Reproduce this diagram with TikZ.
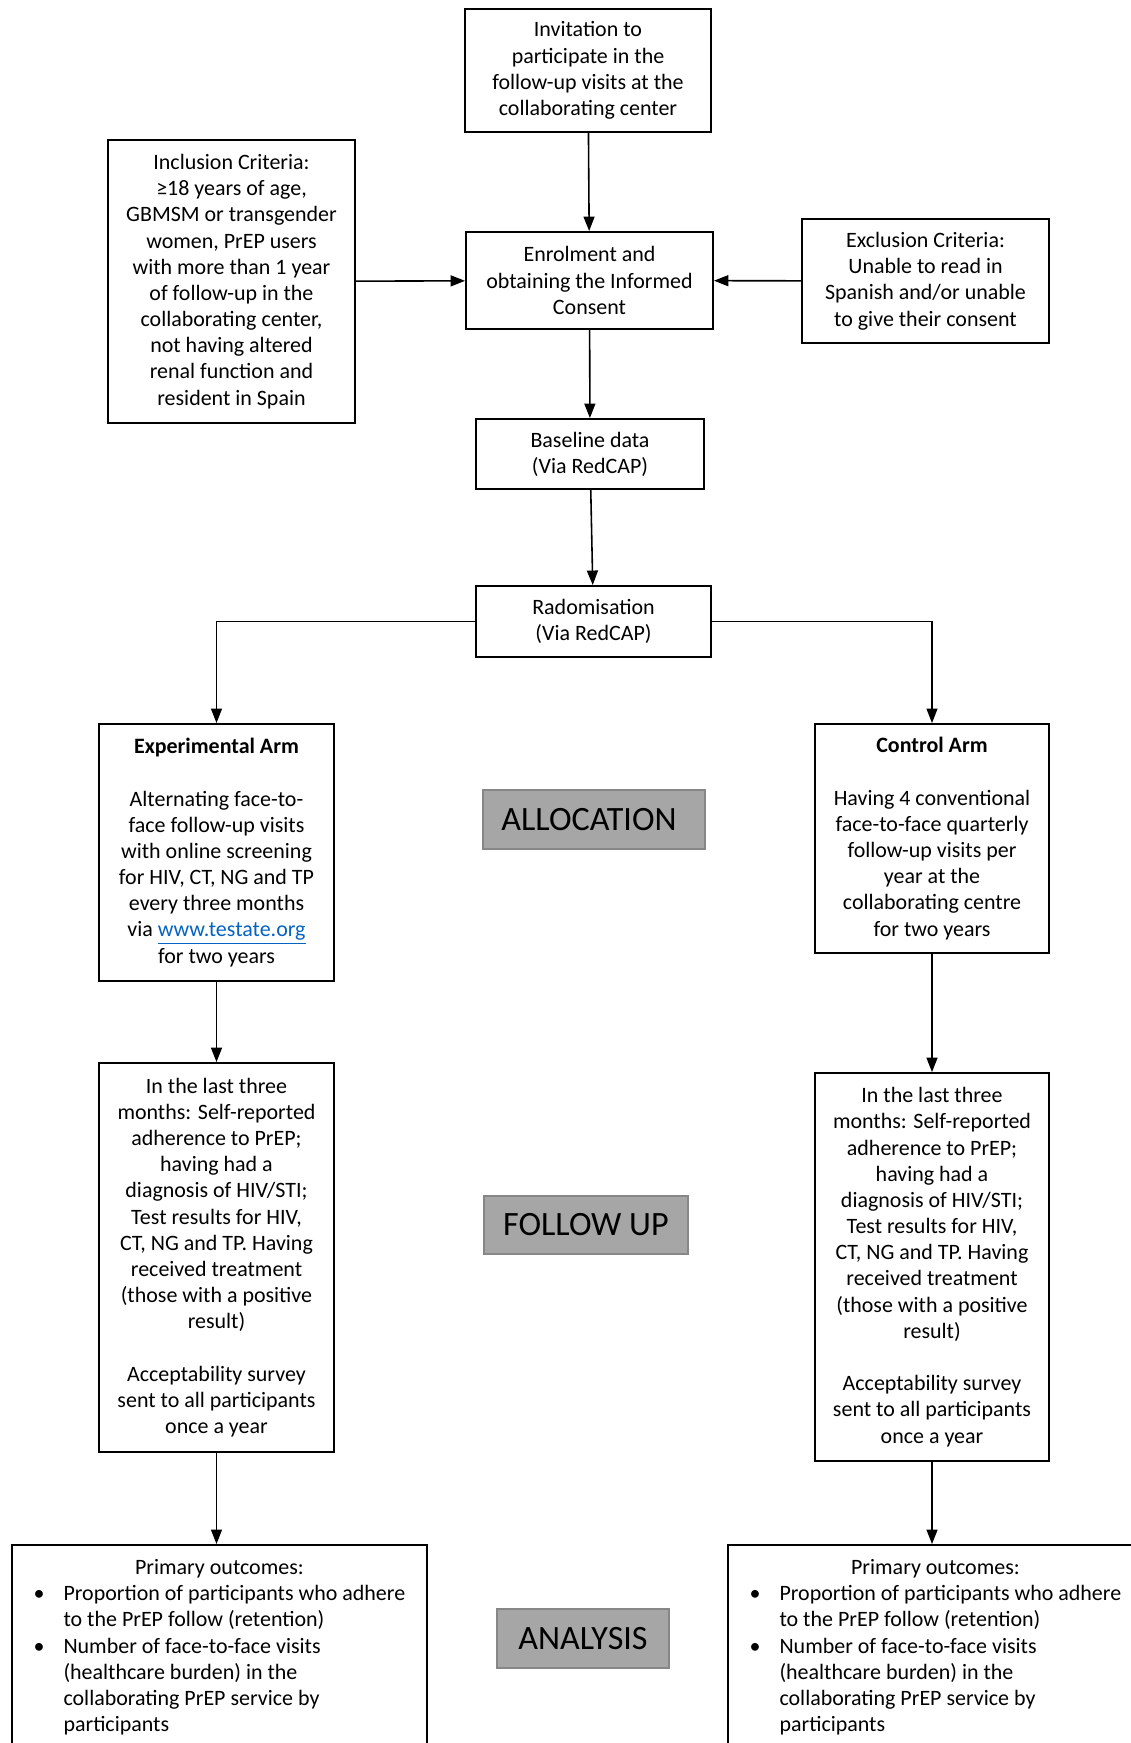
\documentclass[tikz,border=0pt]{standalone}
\usepackage{fontspec}
\setmainfont{Carlito}
\usetikzlibrary{arrows.meta}
\definecolor{linkblue}{HTML}{0563C1}
\definecolor{stagegray}{HTML}{A6A6A6}
\definecolor{stageedge}{HTML}{878787}
\tikzset{
  box/.style={draw, line width=1.1pt, align=center, inner sep=2pt,
    font=\fontsize{12.5}{14.9}\selectfont},
  stage/.style={draw=stageedge, fill=stagegray, line width=1.5pt,
    font=\fontsize{19.4}{23}\selectfont},
  flow/.style={-{Triangle[length=0.29cm,width=0.22cm]}, line width=0.9pt},
}
\newcommand{\futext}{In the last three\\months: Self-reported\\adherence to PrEP;\\
  having had a\\diagnosis of HIV/STI;\\Test results for HIV,\\CT, NG and TP. Having\\
  received treatment\\(those with a positive\\result)\\[14.9pt]
  Acceptability survey\\sent to all participants\\once a year}
\newcommand{\outtext}{Primary outcomes:\\
  \begin{tabular}[t]{@{}p{0.6cm}@{}l@{}}
  \textbullet & Proportion of participants who adhere\\
   & to the PrEP follow (retention)\\
  \textbullet & Number of face-to-face visits\\
   & (healthcare burden) in the\\
   & collaborating PrEP service by\\
   & participants
  \end{tabular}}

\begin{document}
\begin{tikzpicture}[x=0.02cm,y=-0.02cm]
\clip (0,0) rectangle (1131,1743);

%%% ENROLMENT %%%
\node[box, minimum width=4.92cm, minimum height=2.46cm] (invite) at (588,70.5)
  {Invitation to\\participate in the\\follow-up visits at the\\collaborating center};
\node[box, minimum width=4.94cm, minimum height=5.66cm] (incl) at (231.5,281.5)
  {Inclusion Criteria:\\≥18 years of age,\\GBMSM or transgender\\women, PrEP users\\
   with more than 1 year\\of follow-up in the\\collaborating center,\\
   not having altered\\renal function and\\resident in Spain};
\node[box, minimum width=4.94cm, minimum height=1.94cm] (enrol) at (589.5,280.5)
  {Enrolment and\\obtaining the Informed\\Consent};
\node[box, minimum width=4.94cm, minimum height=2.48cm] (excl) at (925.5,281)
  {Exclusion Criteria:\\Unable to read in\\Spanish and/or unable\\to give their consent};
\node[box, minimum width=4.56cm, minimum height=1.40cm] (base) at (590,454)
  {Baseline data\\(Via RedCAP)};
\node[box, minimum width=4.70cm, minimum height=1.42cm] (rado) at (593.5,621.5)
  {Radomisation\\(Via RedCAP)};

%%% ALLOCATION %%%
\node[box, minimum width=4.70cm, minimum height=5.14cm] (exparm) at (216.5,852.5)
  {\textbf{Experimental Arm}\\[14.9pt]Alternating face-to-\\face follow-up visits\\
   with online screening\\for HIV, CT, NG and TP\\every three months\\
   via \textcolor{linkblue}{\underline{www.testate.org}}\\for two years};
\node[box, minimum width=4.68cm, minimum height=4.58cm] (ctrlarm) at (932,838.5)
  {\textbf{Control Arm}\\[14.9pt]Having 4 conventional\\face-to-face quarterly\\
   follow-up visits per\\year at the\\collaborating centre\\for two years};
\node[stage, minimum width=4.44cm, minimum height=1.18cm] (alloc) at (594,819.5)
  {ALLOCATION\hspace*{0.2cm}};

%%% FOLLOW UP %%%
\node[box, minimum width=4.70cm, minimum height=7.78cm] (expfu) at (216.5,1257.5) {\futext};
\node[box, minimum width=4.68cm, minimum height=7.76cm] (ctrlfu) at (932,1267) {\futext};
\node[stage, minimum width=4.08cm, minimum height=1.16cm] (follow) at (586,1225) {FOLLOW UP};

%%% ANALYSIS %%%
\node[box, anchor=north west, minimum width=8.3cm, inner ysep=0.29cm] (expout) at (11,1544) {\outtext};
\node[box, anchor=north west, minimum width=8.3cm, inner ysep=0.29cm] (ctrlout) at (727,1544) {\outtext};
\node[stage, minimum width=3.44cm, minimum height=1.18cm] (analysis) at (583,1638.5) {ANALYSIS};

%%% ARROWS %%%
\draw[flow] (invite) -- (enrol);
\draw[flow] (incl) -- (enrol);
\draw[flow] (excl) -- (enrol);
\draw[flow] (enrol) -- (base);
\draw[flow] (base) -- (rado);
\draw[flow, line width=0.7pt] (rado.west) -| (exparm.north);
\draw[flow, line width=0.7pt] (rado.east) -| (ctrlarm.north);
\draw[flow] (exparm) -- (expfu);
\draw[flow] (ctrlarm) -- (ctrlfu);
\draw[flow] (expfu.south) -- (expfu.south |- expout.north);
\draw[flow] (ctrlfu.south) -- (ctrlfu.south |- ctrlout.north);
\end{tikzpicture}
\end{document}
